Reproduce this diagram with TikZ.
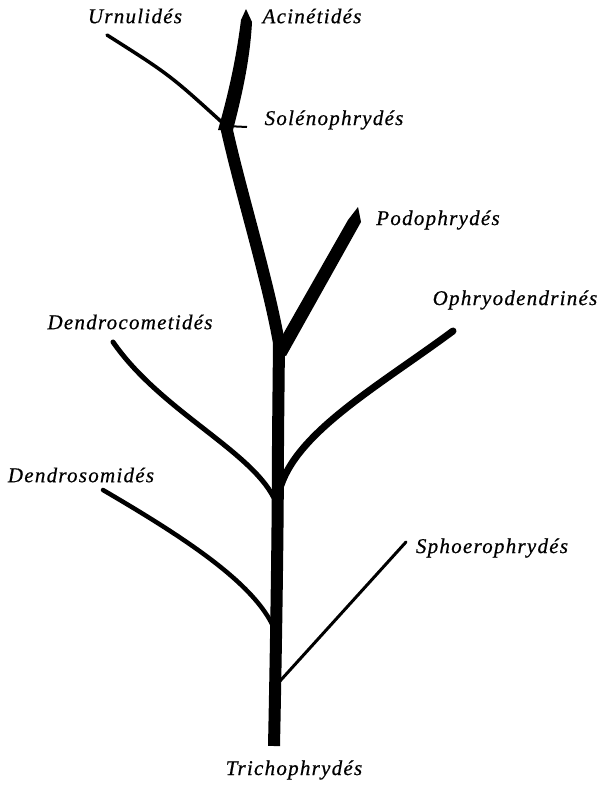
\documentclass[tikz,border=0pt]{standalone}
\usepackage{fontspec}
\newfontfamily\lblfont[LetterSpace=6,FakeBold=0.6]{Liberation Serif}
\begin{document}
\begin{tikzpicture}[x=1pt,y=-1pt,
  lbl/.style={font=\lblfont\itshape\fontsize{21}{23}\selectfont,inner sep=0pt},
  stem/.style={line width=#1,line cap=butt,line join=round},
  stem/.default=12pt,
  twig/.style={line width=#1,line cap=round},
  twig/.default=4pt]
\useasboundingbox (0,0) rectangle (610,787);
% junctions and tips
\coordinate (base) at (274,746);
\coordinate (jS) at (280,681);
\coordinate (jDs) at (272,624);
\coordinate (jDc) at (274,498);
\coordinate (jO) at (281,485);
\coordinate (jP) at (279,343);
\coordinate (jU) at (226,126);
\coordinate (tipU) at (107,35);
\coordinate (tipO) at (453,331);
\coordinate (tipDc) at (113,342);
\coordinate (tipDs) at (103,490);
\coordinate (tipS) at (406,542);
\coordinate (tick) at (247,127);
% trunk
\draw[stem] (base) .. controls (277,600) and (278,500) .. (278,440) -- (jP)
  .. controls (268,280) and (240,190) .. (jU);
\fill (218,130) .. controls (228,95) and (236,60) .. (241,20) -- (246,9) -- (252,22)
  .. controls (250,60) and (242,95) .. (233,130) -- cycle;
% Podophrydes
\fill (274,350) -- (348,220) -- (358,207) -- (361,222) -- (286,356) -- cycle;
% side branches
\draw[twig=7pt] (jO) .. controls (300,430) and (380,385) .. (tipO);
\draw[twig=5pt] (tipDc) .. controls (160,410) and (250,450) .. (jDc);
\draw[twig=4.5pt] (tipDs) .. controls (180,535) and (250,580) .. (jDs);
\draw[twig=3pt] (tipS) -- (jS);
\draw[twig=3.5pt] (tipU) .. controls (170,75) .. (jU);
\draw[line width=2pt] (jU) -- (tick);
% labels
\node[lbl] (lU) at (135,16) {Urnulidés};
\node[lbl] (lA) at (312,16) {Acinétidés};
\node[lbl] (lSo) at (334,120) {Solénophrydés};
\node[lbl] (lP) at (438,220) {Podophrydés};
\node[lbl] (lO) at (515,300) {Ophryodendrinés};
\node[lbl] (lDc) at (130,322) {Dendrocometidés};
\node[lbl] (lDs) at (81,475) {Dendrosomidés};
\node[lbl] (lS) at (492,548) {Sphoerophrydés};
\node[lbl] (lT) at (294,770) {Trichophrydés};
\end{tikzpicture}
\end{document}
